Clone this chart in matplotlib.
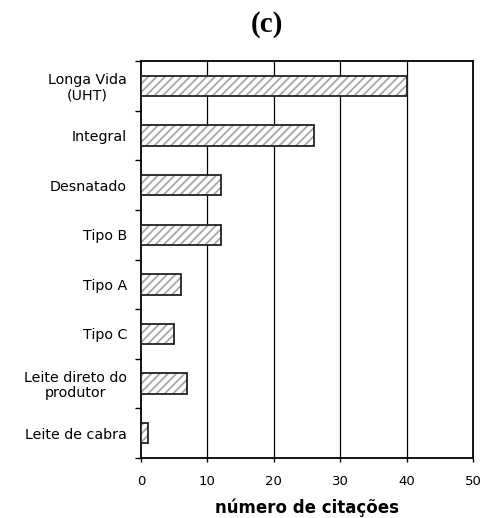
import matplotlib
matplotlib.use("Agg")
import matplotlib.pyplot as plt
import numpy as np

categories = ["Longa Vida\n(UHT)", "Integral", "Desnatado", "Tipo B", "Tipo A",
              "Tipo C", "Leite direto do\nprodutor", "Leite de cabra"]
values = [40, 26, 12, 12, 6, 5, 7, 1]
xticks = [0, 10, 20, 30, 40, 50]

plt.rcParams['hatch.linewidth'] = 1.3

fig = plt.figure(figsize=(4.83, 5.18), dpi=100)
ax = fig.add_axes([0.2919, 0.1158, 0.6874, 0.7664])

y = np.arange(len(categories))
# hatch layer (gray stripes)
ax.barh(y, values, height=0.41, color='white', edgecolor='#a8a8a8', hatch='////',
        linewidth=0, zorder=3)
# outline layer
ax.barh(y, values, height=0.41, fill=False, edgecolor='#222222',
        linewidth=1.3, zorder=4)

ax.set_xlim(0, 50)
ax.set_ylim(len(categories) - 0.5, -0.5)
ax.set_xticks(xticks)
ax.set_xticklabels([str(t) for t in xticks], fontsize=9.5, family='DejaVu Sans')
ax.tick_params(axis='x', length=3, width=1.0, pad=9, direction='out')

ax.set_yticks(y)
ax.set_yticklabels(categories, fontsize=10.3, family='DejaVu Sans',
                   multialignment='center', linespacing=1.1)
ax.tick_params(axis='y', which='major', length=0, pad=10)
ax.set_yticks(np.arange(-0.5, len(categories), 1.0), minor=True)
ax.tick_params(axis='y', which='minor', length=4, width=1.0, direction='out')

for g in [10, 20, 30, 40]:
    ax.axvline(g, color='black', linewidth=0.9, zorder=1)

for s in ax.spines.values():
    s.set_linewidth(1.3)

ax.set_xlabel("número de citações", fontsize=12, fontweight='bold',
              family='DejaVu Sans', labelpad=8)
fig.text(267 / 483, 1 - 25 / 518, "(c)", ha='center', va='center',
         fontsize=21, fontweight='bold', family='Liberation Serif')

fig.savefig("out.png", dpi=100)
